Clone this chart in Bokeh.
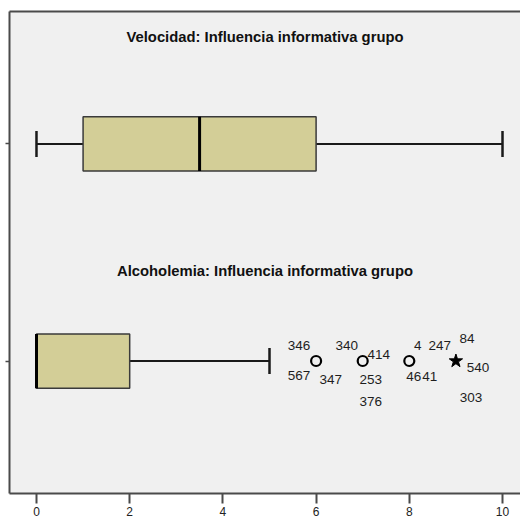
from bokeh.plotting import figure
from bokeh.models import (ColumnDataSource, FactorRange, Range1d, LinearAxis,
                          FixedTicker)
from bokeh.core.properties import value
from bokeh.embed import file_html
from bokeh.resources import INLINE

# ---------------- data ----------------
groups = ["Alcoholemia", "Velocidad"]
titles = ["Alcoholemia: Influencia informativa grupo",
          "Velocidad: Influencia informativa grupo"]
whisker_low = [0, 0]
q1 = [0, 1]
median = [0, 3.5]
q3 = [2, 6]
whisker_high = [5, 10]

outlier_group = ["Alcoholemia", "Alcoholemia", "Alcoholemia"]
outlier_values = [6, 7, 8]
outlier_ids = [["346", "567"],
               ["340", "347", "414", "253", "376"],
               ["4", "247", "46", "41"]]

extreme_group = ["Alcoholemia"]
extreme_values = [9]
extreme_ids = [["84", "540", "303"]]

x_ticks = [0, 2, 4, 6, 8, 10]

# ---------------- styles / layout ----------------
label_offsets = {  # pixel offsets of case labels around their point
    "346": (-17, -16), "567": (-17, 14),
    "340": (-16, -16), "347": (-32, 18), "414": (16, -7), "253": (8, 18), "376": (8, 40),
    "4": (8.5, -16), "247": (30.5, -16), "46": (4.5, 15), "41": (20.5, 15),
    "84": (11, -23), "540": (22, 6), "303": (15, 36),
}
title_offset = {"Velocidad": 0.493, "Alcoholemia": 0.415}
BOX_FILL = "#D3CE97"
FRAME = "#4a4a4a"
FONT = "Liberation Sans"

x_start, x_end = -0.579, 10.386

p = figure(width=520, height=519, output_backend="svg", toolbar_location=None,
           x_range=Range1d(x_start, x_end),
           y_range=FactorRange(factors=groups, range_padding=0.1105,
                               range_padding_units="absolute"),
           min_border_left=9, min_border_right=0, min_border_top=11,
           min_border_bottom=26)
p.outline_line_color = None
p.background_fill_color = "#F0F0F0"
p.border_fill_color = "white"
p.xgrid.visible = False
p.ygrid.visible = False

# bottom axis
xa = p.xaxis[0]
xa.ticker = FixedTicker(ticks=x_ticks)
xa.minor_tick_line_color = None
xa.axis_line_width = 2
xa.axis_line_color = FRAME
xa.major_tick_line_width = 2
xa.major_tick_line_color = FRAME
xa.major_tick_out = 10
xa.major_tick_in = 0
xa.major_label_standoff = 3
xa.major_label_text_font = FONT
xa.major_label_text_font_size = "12px"
xa.major_label_text_color = "#222222"

# left axis
ya = p.yaxis[0]
ya.axis_line_width = 2
ya.axis_line_color = FRAME
ya.major_tick_line_color = FRAME
ya.major_tick_line_width = 1.5
ya.major_tick_out = 4
ya.major_tick_in = 0
ya.major_label_text_font_size = "1px"
ya.major_label_text_alpha = 0
ya.major_label_standoff = 0

# top frame line
top = LinearAxis(ticker=FixedTicker(ticks=[]), axis_line_width=2,
                 axis_line_color=FRAME, major_label_text_font_size="1px",
                 major_label_text_alpha=0,
                 major_label_standoff=0, major_tick_out=0, major_tick_in=0,
                 minor_tick_out=0, minor_tick_in=0)
p.add_layout(top, "above")

# whiskers
p.segment(x0=whisker_low, x1=q1, y0=groups, y1=groups, line_color="#1a1a1a", line_width=2)
p.segment(x0=q3, x1=whisker_high, y0=groups, y1=groups, line_color="#1a1a1a", line_width=2)
cap_g = [g for g, w, a in zip(groups, whisker_low, q1) if w != a] + \
        [g for g, w, a in zip(groups, whisker_high, q3) if w != a]
cap_x = [w for w, a in zip(whisker_low, q1) if w != a] + \
        [w for w, a in zip(whisker_high, q3) if w != a]
p.hbar(y=cap_g, left=cap_x, right=cap_x, height=0.12, fill_color=None,
       line_color="#1a1a1a", line_width=2.5)

# boxes
p.hbar(y=groups, left=q1, right=q3, height=0.25, fill_color=BOX_FILL,
       line_color="#3a3a3a", line_width=1.5)
p.hbar(y=groups, left=median, right=median, height=0.25, fill_color=None,
       line_color="black", line_width=3)

# outliers
p.scatter(x=outlier_values, y=outlier_group, marker="circle", size=10,
          fill_color=None, line_color="black", line_width=2.2)
p.scatter(x=extreme_values, y=extreme_group, marker="star", size=14,
          fill_color="black", line_color="black", line_width=1)

lx, ly, lt, ldx, ldy = [], [], [], [], []
for g, v, ids in list(zip(outlier_group, outlier_values, outlier_ids)) + \
        list(zip(extreme_group, extreme_values, extreme_ids)):
    for i in ids:
        lx.append(v); ly.append(g); lt.append(i)
        ldx.append(label_offsets[i][0]); ldy.append(label_offsets[i][1])
src = ColumnDataSource(dict(x=lx, y=ly, text=lt, dx=ldx, dy=ldy))
p.text(x="x", y="y", text="text", x_offset="dx", y_offset="dy", source=src,
       text_align="center", text_baseline="middle", text_font=value(FONT),
       text_font_size="13.5px", text_color="#1e1e1e")

# panel titles
tx = [(x_start + x_end) / 2] * len(groups)
ty = [(g, title_offset[g]) for g in groups]
p.text(x=tx, y=ty, text=titles, text_align="center", text_baseline="middle",
       text_font=value(FONT), text_font_style="bold", text_font_size="14.8px",
       text_color="#111111")

open("out.html", "w").write(file_html(p, INLINE))
